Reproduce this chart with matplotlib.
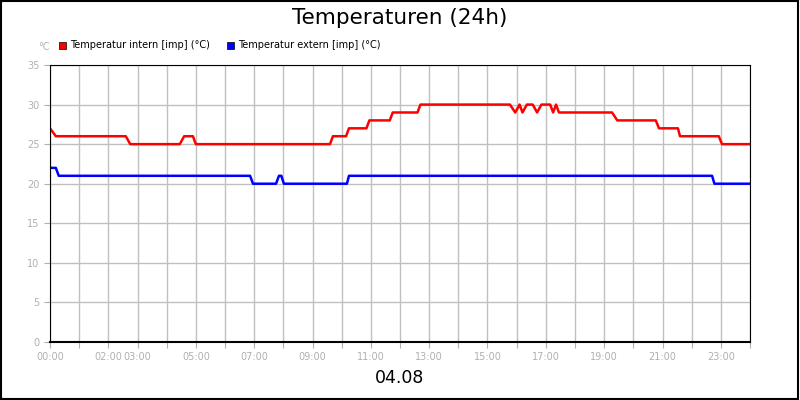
import matplotlib
matplotlib.use("Agg")
import matplotlib.pyplot as plt
from matplotlib.patches import Rectangle

# breakpoints (hour, value)
red_h = [0, 0.2, 2.6, 2.75, 4.45, 4.6, 4.9, 5.0, 9.6, 9.7, 10.15, 10.25, 10.85, 10.95, 11.65, 11.75,
         12.6, 12.7, 15.77, 15.95, 16.1, 16.2, 16.35, 16.55, 16.7, 16.85, 17.15, 17.25, 17.35, 17.45,
         19.27, 19.45, 20.77, 20.88, 21.53, 21.6, 22.93, 23.04, 24]
red_v = [27, 26, 26, 25, 25, 26, 26, 25, 25, 26, 26, 27, 27, 28, 28, 29,
         29, 30, 30, 29, 30, 29, 30, 30, 29, 30, 30, 29, 30, 29,
         29, 28, 28, 27, 27, 26, 26, 25, 25]
blue_h = [0, 0.2, 0.3, 6.86, 6.96, 7.75, 7.85, 7.93, 8.02, 10.18, 10.25, 22.7, 22.78, 24]
blue_v = [22, 22, 21, 21, 20, 20, 21, 21, 20, 20, 21, 21, 20, 20]
labeled = {0: "00:00", 2: "02:00", 3: "03:00", 5: "05:00", 7: "07:00", 9: "09:00", 11: "11:00",
           13: "13:00", 15: "15:00", 17: "17:00", 19: "19:00", 21: "21:00", 23: "23:00"}

fig = plt.figure(figsize=(8, 4), dpi=100)
fig.patches.append(Rectangle((0.001, 0.002), 0.997, 0.995, transform=fig.transFigure,
                             fill=False, edgecolor="black", linewidth=1.5))
ax = fig.add_axes([50/800, 58/400, 700/800, 277/400])
ax.plot(red_h, red_v, color="#ff0000", lw=1.8)
ax.plot(blue_h, blue_v, color="#0000ff", lw=1.8)
ax.set_xlim(0, 24)
ax.set_ylim(0, 35)
ax.set_yticks(range(0, 36, 5))
ax.set_xticks(range(0, 25))
ax.set_xticklabels([labeled.get(h, "") for h in range(25)])
ax.grid(True, color="#c0c0c0", lw=1)
ax.tick_params(colors="#b0b0b0", labelsize=7, length=4, labelcolor="#b0b0b0")
for s in ax.spines.values():
    s.set_color("black")
ax.spines["bottom"].set_linewidth(1.5)

fig.text(0.5, 0.955, "Temperaturen (24h)", ha="center", va="center", fontsize=15.5)
fig.text(0.5, 0.055, "04.08", ha="center", va="center", fontsize=12.5)
fig.text(38/800, 1 - 47/400, "°C", ha="left", va="center", fontsize=7, color="#b0b0b0")
for x0, col, lab in [(59, "#ff0000", "Temperatur intern [imp] (°C)"),
                     (227, "#0000ff", "Temperatur extern [imp] (°C)")]:
    fig.patches.append(Rectangle((x0/800, 1 - 49/400), 7/800, 7/400, transform=fig.transFigure,
                                 facecolor=col, edgecolor="black", lw=0.5))
    fig.text((x0 + 11)/800, 1 - 45/400, lab, ha="left", va="center", fontsize=7)
fig.savefig("out.png", dpi=100)
